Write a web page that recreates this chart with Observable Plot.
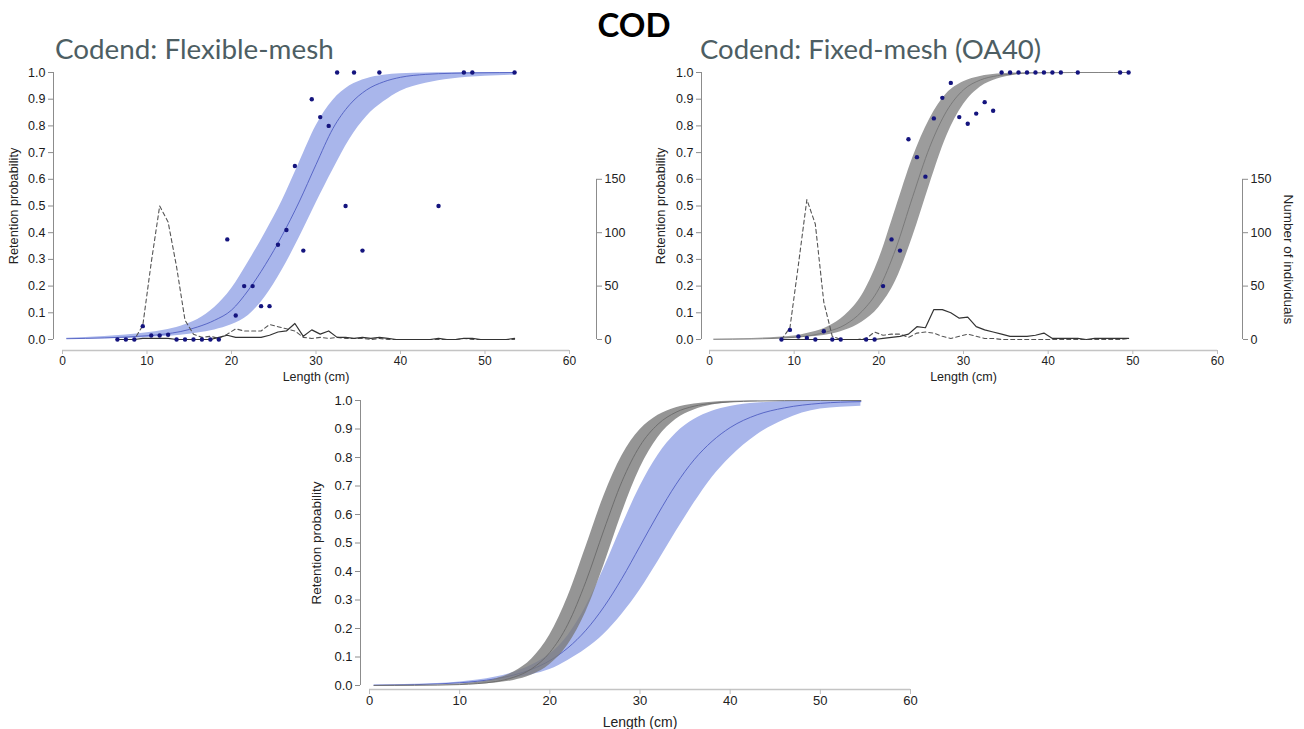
<!DOCTYPE html>
<html><head><meta charset="utf-8">
<script src="https://cdn.jsdelivr.net/npm/d3@7"></script>
<script src="https://cdn.jsdelivr.net/npm/@observablehq/plot@0.6"></script>
<style>
body{margin:0;background:#fff;}
#root{position:relative;width:1304px;height:729px;overflow:hidden;background:#fff;}
.t{position:absolute;white-space:nowrap;}
.p{position:absolute;}
</style></head><body><div id="root">
<div class="t" style="left:0;width:1268px;top:4px;text-align:center;font:bold 33px Lato, sans-serif;color:#000;">COD</div>
<div class="t" style="left:55px;top:32px;font:27.8px Lato, sans-serif;color:#4d5e63;">Codend: Flexible-mesh</div>
<div class="t" style="left:700px;top:32px;font:27.5px Lato, sans-serif;color:#4d5e63;">Codend: Fixed-mesh (OA40)</div>
<div class="p" id="p1" style="left:0;top:60px;"></div>
<div class="p" id="p2" style="left:650px;top:60px;"></div>
<div class="p" id="p3" style="left:300px;top:385px;"></div>
</div>
<script>
// ---------- axes ----------
const xTicks = [0, 10, 20, 30, 40, 50, 60];
const yTicks = [0, 0.1, 0.2, 0.3, 0.4, 0.5, 0.6, 0.7, 0.8, 0.9, 1.0];
const countTicks = [0, 50, 100, 150];
const countTopProb = 0.6; // right axis: 150 individuals sits level with 0.6

// ---------- panel 1: flexible-mesh codend (blue) ----------
const grid1 = [0.5, 5, 10, 12, 14, 16, 18, 20, 22, 24, 26, 28, 30, 32, 34, 36, 38, 40, 43, 46, 50, 53.5];
const mid1 = [0.003, 0.006, 0.014, 0.020, 0.030, 0.047, 0.072, 0.11, 0.185, 0.28, 0.39, 0.515, 0.655, 0.79, 0.88, 0.935, 0.965, 0.982, 0.993, 0.997, 0.999, 1.0];
const lo1 = [0.001, 0.003, 0.007, 0.011, 0.016, 0.024, 0.036, 0.055, 0.09, 0.16, 0.26, 0.38, 0.51, 0.635, 0.75, 0.835, 0.89, 0.93, 0.96, 0.976, 0.986, 0.99];
const hi1 = [0.005, 0.011, 0.025, 0.035, 0.05, 0.075, 0.12, 0.19, 0.29, 0.40, 0.52, 0.66, 0.80, 0.895, 0.95, 0.977, 0.99, 0.995, 0.998, 0.999, 1.0, 1.0];
const obsLen1 = [6.5, 7.5, 8.5, 9.5, 10.5, 11.5, 12.5, 13.5, 14.5, 15.5, 16.5, 17.5, 18.5, 19.5, 20.5, 21.5, 22.5, 23.5, 24.5, 25.5, 26.5, 27.5, 28.5, 29.5, 30.5, 31.5, 32.5, 33.5, 34.5, 35.5, 37.5, 44.5, 47.5, 48.5, 53.5];
const obsRet1 = [0, 0, 0, 0.05, 0.015, 0.015, 0.018, 0, 0, 0, 0, 0, 0, 0.375, 0.09, 0.2, 0.2, 0.125, 0.125, 0.355, 0.41, 0.65, 0.333, 0.9, 0.833, 0.8, 1, 0.5, 1, 0.333, 1, 0.5, 1, 1, 1];
const cntLen1 = [6.5, 7.5, 8.5, 9.5, 10.5, 11.5, 12.5, 13.5, 14.5, 15.5, 16.5, 17.5, 18.5, 19.5, 20.5, 21.5, 22.5, 23.5, 24.5, 25.5, 26.5, 27.5, 28.5, 29.5, 30.5, 31.5, 32.5, 33.5, 34.5, 35.5, 36.5, 37.5, 38.5, 39.5, 40.5, 41.5, 42.5, 43.5, 44.5, 45.5, 46.5, 47.5, 48.5, 49.5, 50.5, 51.5, 52.5, 53.5];
const cntDash1 = [0, 0, 0, 13, 72, 125, 110, 68, 18, 5, 2, 3, 1, 5, 10, 8, 8, 8, 14, 12, 10, 8, 2, 1, 2, 1, 2, 1, 1, 1, 0, 1, 0, 0, 0, 0, 0, 0, 0, 0, 0, 1, 0, 0, 0, 0, 0, 0];
const cntSolid1 = [0, 0, 0, 1, 1, 1, 1, 0, 0, 0, 0, 0, 2, 4, 2, 2, 2, 2, 4, 7, 8, 15, 3, 9, 5, 8, 2, 2, 1, 2, 1, 2, 1, 0, 0, 0, 0, 0, 1, 0, 0, 1, 1, 0, 0, 0, 0, 1];

// ---------- panel 2: fixed-mesh codend OA40 (grey) ----------
const grid2 = [0.5, 5, 10, 12, 14, 16, 18, 20, 22, 24, 26, 28, 30, 32, 34, 36, 38, 40, 43, 46, 49.5];
const mid2 = [0.0005, 0.002, 0.008, 0.015, 0.03, 0.055, 0.105, 0.19, 0.34, 0.535, 0.72, 0.855, 0.935, 0.972, 0.988, 0.995, 0.998, 0.999, 1, 1, 1];
const hi2 = [0.001, 0.004, 0.013, 0.026, 0.048, 0.09, 0.165, 0.30, 0.49, 0.68, 0.825, 0.92, 0.965, 0.985, 0.994, 0.998, 0.999, 1, 1, 1, 1];
const lo2 = [0.0002, 0.001, 0.005, 0.01, 0.018, 0.035, 0.065, 0.12, 0.22, 0.385, 0.58, 0.76, 0.88, 0.946, 0.976, 0.99, 0.996, 0.998, 0.999, 1, 1];
const obsLen2 = [8.5, 9.5, 10.5, 11.5, 12.5, 13.5, 14.5, 15.5, 18.5, 19.5, 20.5, 21.5, 22.5, 23.5, 24.5, 25.5, 26.5, 27.5, 28.5, 29.5, 30.5, 31.5, 32.5, 33.5, 34.5, 35.5, 36.5, 37.5, 38.5, 39.5, 40.5, 41.5, 43.5, 48.5, 49.5];
const obsRet2 = [0, 0.036, 0.011, 0.006, 0, 0.031, 0, 0, 0, 0, 0.2, 0.375, 0.333, 0.75, 0.683, 0.61, 0.828, 0.905, 0.961, 0.833, 0.808, 0.846, 0.889, 0.857, 1, 1, 1, 1, 1, 1, 1, 1, 1, 1, 1];
const cntLen2 = [8.5, 9.5, 10.5, 11.5, 12.5, 13.5, 14.5, 15.5, 16.5, 17.5, 18.5, 19.5, 20.5, 21.5, 22.5, 23.5, 24.5, 25.5, 26.5, 27.5, 28.5, 29.5, 30.5, 31.5, 32.5, 33.5, 34.5, 35.5, 36.5, 37.5, 38.5, 39.5, 40.5, 41.5, 42.5, 43.5, 44.5, 45.5, 46.5, 47.5, 48.5, 49.5];
const cntDash2 = [0, 11, 70, 131, 108, 35, 3, 0, 0, 0, 1, 7, 4, 5, 5, 2, 6, 7, 6, 3, 1, 3, 5, 3, 1, 1, 0, 0, 0, 0, 0, 0, 0, 0, 0, 0, 0, 0, 0, 0, 0, 1];
const cntSolid2 = [0, 0, 0, 0, 0, 0, 0, 0, 0, 0, 0, 0, 1, 2, 3, 5, 12, 11, 28, 28, 25, 20, 21, 12, 9, 7, 5, 3, 3, 3, 4, 6, 1, 1, 1, 1, 0, 1, 1, 1, 1, 1];

// ---------- panel 3: both curves compared ----------
const grid3 = [0.5, 5, 10, 12, 14, 16, 18, 20, 22, 24, 26, 28, 30, 32, 34, 36, 38, 40, 43, 46, 50, 54.5];
const greyMid3 = [0.0001, 0.0005, 0.0032, 0.0067, 0.014, 0.029, 0.059, 0.116, 0.215, 0.365, 0.546, 0.716, 0.841, 0.917, 0.959, 0.98, 0.99, 0.995, 0.998, 0.9995, 1, 1];
const greyHi3 = [0.0002, 0.0008, 0.0053, 0.011, 0.023, 0.047, 0.093, 0.177, 0.311, 0.486, 0.665, 0.806, 0.897, 0.948, 0.975, 0.988, 0.994, 0.997, 0.999, 1, 1, 1];
const greyLo3 = [0.00006, 0.0003, 0.002, 0.0041, 0.0085, 0.0177, 0.0365, 0.0735, 0.142, 0.258, 0.422, 0.605, 0.762, 0.87, 0.934, 0.967, 0.984, 0.992, 0.9975, 0.999, 1, 1];
const blueMid3 = [0.0011, 0.003, 0.0095, 0.015, 0.0235, 0.0368, 0.057, 0.0875, 0.132, 0.194, 0.276, 0.376, 0.489, 0.602, 0.706, 0.792, 0.857, 0.905, 0.95, 0.974, 0.99, 0.996];
const blueHi3 = [0.0015, 0.004, 0.012, 0.019, 0.03, 0.046, 0.072, 0.11, 0.175, 0.277, 0.411, 0.56, 0.698, 0.808, 0.885, 0.933, 0.962, 0.979, 0.991, 0.9965, 0.999, 1.0];
const blueLo3 = [0.0008, 0.002, 0.006, 0.01, 0.016, 0.025, 0.038, 0.056, 0.088, 0.128, 0.18, 0.25, 0.335, 0.435, 0.54, 0.64, 0.73, 0.80, 0.88, 0.932, 0.97, 0.98];

// ---------- build tables ----------
const band = (g, lo, mid, hi) => g.map((x, i) => ({x, lo: lo[i], mid: mid[i], hi: hi[i]}));
const pts = (l, r) => l.map((x, i) => ({x, y: r[i]}));
const cnt = (l, d, s) => l.map((x, i) => ({x, dash: d[i], solid: s[i]}));
const k = countTopProb / countTicks[countTicks.length - 1];

const BLUE = "#a9b6eb", BLUELINE = "#4f5ec2", NAVY = "#14147e";

function frame(o) {
  const xMid = (xTicks[0] + xTicks[xTicks.length - 1]) / 2;
  const yMid = (yTicks[0] + yTicks[yTicks.length - 1]) / 2;
  const m = [
    ...o.marks,
    Plot.ruleX([xTicks[0]], {y1: yTicks[0], y2: yTicks[yTicks.length - 1], dx: o.yLineDx, stroke: "#8c8c8c"}),
    Plot.ruleY([yTicks[0]], {x1: xTicks[0], x2: xTicks[xTicks.length - 1], dy: o.xLineDy, stroke: "#c4c4c4", strokeWidth: 1.6}),
    Plot.axisY({ticks: yTicks, tickFormat: d3.format(".1f"), tickSize: 5, tickPadding: 3, stroke: "#8c8c8c", fill: "#1a1a1a", label: null, fontSize: o.fs}),
    Plot.axisX({ticks: xTicks, tickFormat: d3.format("d"), tickSize: o.xts, tickPadding: 1.5, stroke: "#bdbdbd", fill: "#222", label: null, fontSize: o.xfs}),
    Plot.text(["Retention probability"], {y: yMid, frameAnchor: "left", textAnchor: "middle", dx: o.yLabelDx, rotate: -90, lineAnchor: "top", fontSize: o.lfs, fill: "#222"}),
    Plot.text(["Length (cm)"], {x: xMid, frameAnchor: "bottom", textAnchor: "middle", dy: o.xLabelDy, lineAnchor: "bottom", fontSize: o.xlfs, fill: "#222"})
  ];
  if (o.right) {
    m.push(
      Plot.ruleX([xTicks[xTicks.length - 1]], {y1: 0, y2: countTicks[countTicks.length - 1] * k, dx: o.rightLineDx, stroke: "#8c8c8c"}),
      Plot.axisY({anchor: "right", ticks: countTicks.map(c => c * k), tickFormat: d => String(Math.round(d / k)), tickSize: 5, tickPadding: 3, stroke: "#8c8c8c", fill: "#222", label: null, fontSize: o.fs})
    );
    if (o.rightLabel) m.push(Plot.text([o.rightLabel], {y: countTicks[countTicks.length - 1] * k / 2, frameAnchor: "right", textAnchor: "middle", dx: o.rightLabelDx, rotate: 90, lineAnchor: "middle", fontSize: 13.5, fill: "#222"}));
  }
  return Plot.plot({
    width: o.width, height: o.height,
    marginLeft: o.mL, marginRight: o.mR, marginTop: o.mT, marginBottom: o.mB,
    x: {domain: [xTicks[0], xTicks[xTicks.length - 1]], range: o.xRange},
    y: {domain: [yTicks[0], yTicks[yTicks.length - 1]], range: o.yRange},
    style: {fontFamily: "'Liberation Sans', Arial, sans-serif", fontSize: o.fs + "px", background: "transparent", overflow: "visible", color: "#222"},
    marks: m
  });
}

function countMarks(c) {
  return [
    Plot.line(c, {x: "x", y: d => d.dash * k, stroke: "#555", strokeWidth: 1.1, strokeDasharray: "4,3"}),
    Plot.line(c, {x: "x", y: d => d.solid * k, stroke: "#333", strokeWidth: 1.2})
  ];
}

const t1 = band(grid1, lo1, mid1, hi1);
const p1 = frame({
  width: 650, height: 330, mL: 53, mR: 54, mT: 12, mB: 40,
  xRange: [62, 569], yRange: [279, 12], yLineDx: -9, xLineDy: 11, rightLineDx: 27,
  fs: 12.5, xfs: 12, xts: 4, lfs: 12.8, xlfs: 12.5, yLabelDx: -45, xLabelDy: 30.5, right: true,
  marks: [
    Plot.areaY(t1, {x: "x", y1: "lo", y2: "hi", fill: BLUE, curve: "monotone-x"}),
    Plot.line(t1, {x: "x", y: "mid", stroke: BLUELINE, strokeWidth: 0.9, curve: "monotone-x"}),
    ...countMarks(cnt(cntLen1, cntDash1, cntSolid1)),
    Plot.dot(pts(obsLen1, obsRet1), {x: "x", y: "y", r: 2.2, fill: NAVY, stroke: null})
  ]
});
document.getElementById("p1").appendChild(p1);

const t2 = band(grid2, lo2, mid2, hi2);
const p2 = frame({
  width: 654, height: 330, mL: 51, mR: 62, mT: 12, mB: 40,
  xRange: [59, 567], yRange: [279, 12], yLineDx: -8, xLineDy: 11, rightLineDx: 25,
  fs: 12.5, xfs: 12, xts: 4, lfs: 12.8, xlfs: 12.5, yLabelDx: -46, xLabelDy: 30.5, right: true,
  rightLabel: "Number of individuals", rightLabelDx: 46,
  marks: [
    Plot.areaY(t2, {x: "x", y1: "lo", y2: "hi", fill: "#9c9c9c", curve: "monotone-x"}),
    Plot.line(t2, {x: "x", y: "mid", stroke: "#767676", strokeWidth: 0.9, curve: "monotone-x"}),
    ...countMarks(cnt(cntLen2, cntDash2, cntSolid2)),
    Plot.dot(pts(obsLen2, obsRet2), {x: "x", y: "y", r: 2.2, fill: NAVY, stroke: null})
  ]
});
document.getElementById("p2").appendChild(p2);

const tb3 = band(grid3, blueLo3, blueMid3, blueHi3);
const tg3 = band(grid3, greyLo3, greyMid3, greyHi3);
const p3 = frame({
  width: 640, height: 344, mL: 60, mR: 30, mT: 15, mB: 40,
  xRange: [69, 610], yRange: [300, 15], yLineDx: -9, xLineDy: 4,
  fs: 13, xfs: 13, xts: 5, lfs: 13.5, xlfs: 14, yLabelDx: -49, xLabelDy: 37, right: false,
  marks: [
    Plot.areaY(tb3, {x: "x", y1: "lo", y2: "hi", fill: BLUE, curve: "monotone-x"}),
    Plot.line(tb3, {x: "x", y: "mid", stroke: BLUELINE, strokeWidth: 0.9, curve: "monotone-x"}),
    Plot.areaY(tg3, {x: "x", y1: "lo", y2: "hi", fill: "#7a7a7a", fillOpacity: 0.8, curve: "monotone-x"}),
    Plot.line(tg3, {x: "x", y: "mid", stroke: "#6a6a6a", strokeWidth: 0.9, curve: "monotone-x"})
  ]
});
document.getElementById("p3").appendChild(p3);
</script>
</body></html>
